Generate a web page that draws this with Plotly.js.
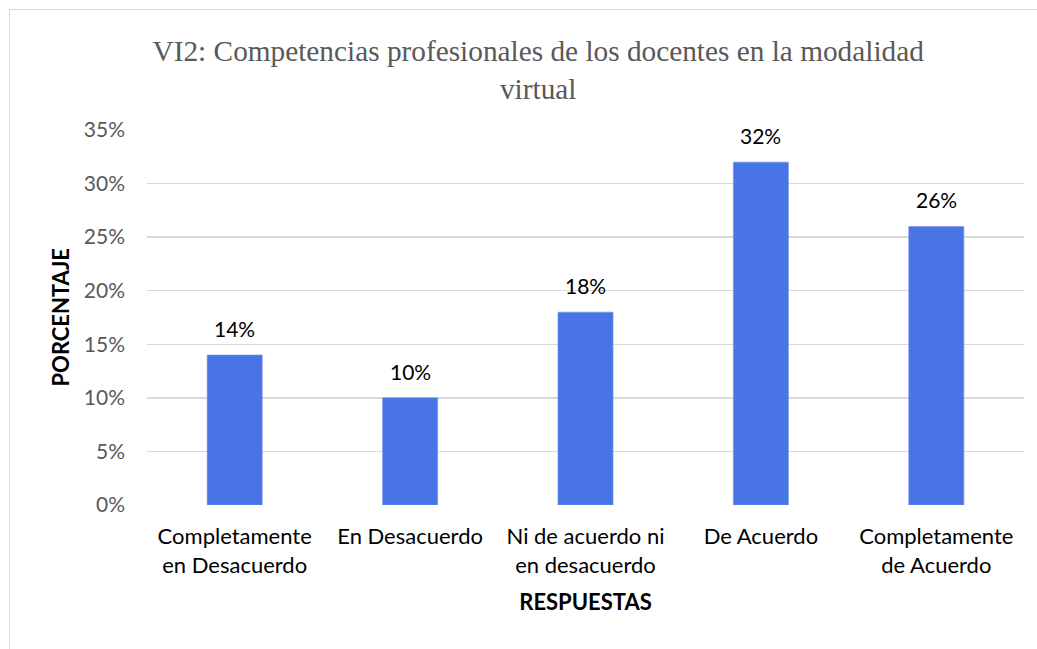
<!DOCTYPE html>
<html>
<head>
<meta charset="utf-8">
<script src="https://cdn.plot.ly/plotly-3.0.1.min.js"></script>
<style>
html, body { margin: 0; padding: 0; background: #fff; }
#chart { width: 1037px; height: 649px; position: absolute; left: 0; top: 0; }
#frame { position: absolute; left: 9px; top: 9px; width: 1100px; height: 700px; border: 1.5px solid #d9d9d9; pointer-events: none; z-index: 10; }
</style>
</head>
<body>
<div id="chart"></div>
<div id="frame"></div>
<script>
var categories = ["Completamente<br>en Desacuerdo", "En Desacuerdo", "Ni de acuerdo ni<br>en desacuerdo", "De Acuerdo", "Completamente<br>de Acuerdo"];
var percentages = [14, 10, 18, 32, 26];
var valueLabels = ["14%", "10%", "18%", "32%", "26%"];
var yTickValues = [0, 5, 10, 15, 20, 25, 30, 35];
var yTickLabels = ["0%", "5%", "10%", "15%", "20%", "25%", "30%", "35%"];

var sansFont = "Lato, 'Open Sans', sans-serif";

var trace = {
  type: "bar",
  x: categories,
  y: percentages,
  marker: { color: "#4874e5", line: { color: "#6f93ec", width: 0.6 } },
  hoverinfo: "x+y"
};

var annotations = categories.map(function (c, i) {
  return {
    x: c, y: percentages[i], xref: "x", yref: "y",
    text: valueLabels[i], showarrow: false,
    yanchor: "bottom", yshift: 12,
    font: { family: sansFont, size: 21, color: "#000" }
  };
});

annotations.push({
  text: "<b>PORCENTAJE</b>", showarrow: false,
  xref: "paper", yref: "paper", x: -0.0992, y: 0.5,
  xanchor: "center", yanchor: "middle", textangle: -90,
  font: { family: sansFont, size: 22, color: "#000" }
});

var layout = {
  width: 1037, height: 649,
  margin: { l: 147, r: 13, t: 130, b: 144 },
  paper_bgcolor: "#fff", plot_bgcolor: "#fff",
  bargap: 0.686,
  showlegend: false,
  title: {
    text: "VI2: Competencias profesionales de los docentes en la modalidad<br>virtual",
    font: { family: "'Liberation Serif', 'Times New Roman', serif", size: 29.3, color: "#595959" },
    x: 0.519, xref: "container", xanchor: "center",
    y: 0.906, yref: "container", yanchor: "top"
  },
  xaxis: {
    type: "category",
    tickfont: { family: sansFont, size: 22, color: "#000" },
    showgrid: false, showline: false, ticks: "",
    ticklabelstandoff: 16,
    title: { text: "<b>RESPUESTAS</b>", font: { family: sansFont, size: 22, color: "#000" }, standoff: 18 }
  },
  yaxis: {
    range: [0, 35], tickmode: "array", tickvals: yTickValues, ticktext: yTickLabels,
    tickfont: { family: sansFont, size: 21, color: "#595959" },
    gridcolor: "#d9d9d9", gridwidth: 1.3, zeroline: false, showline: false, ticks: "",
    ticklabelstandoff: 21
  },
  annotations: annotations
};

Plotly.newPlot("chart", [trace], layout, { displayModeBar: false, staticPlot: true });
</script>
</body>
</html>
